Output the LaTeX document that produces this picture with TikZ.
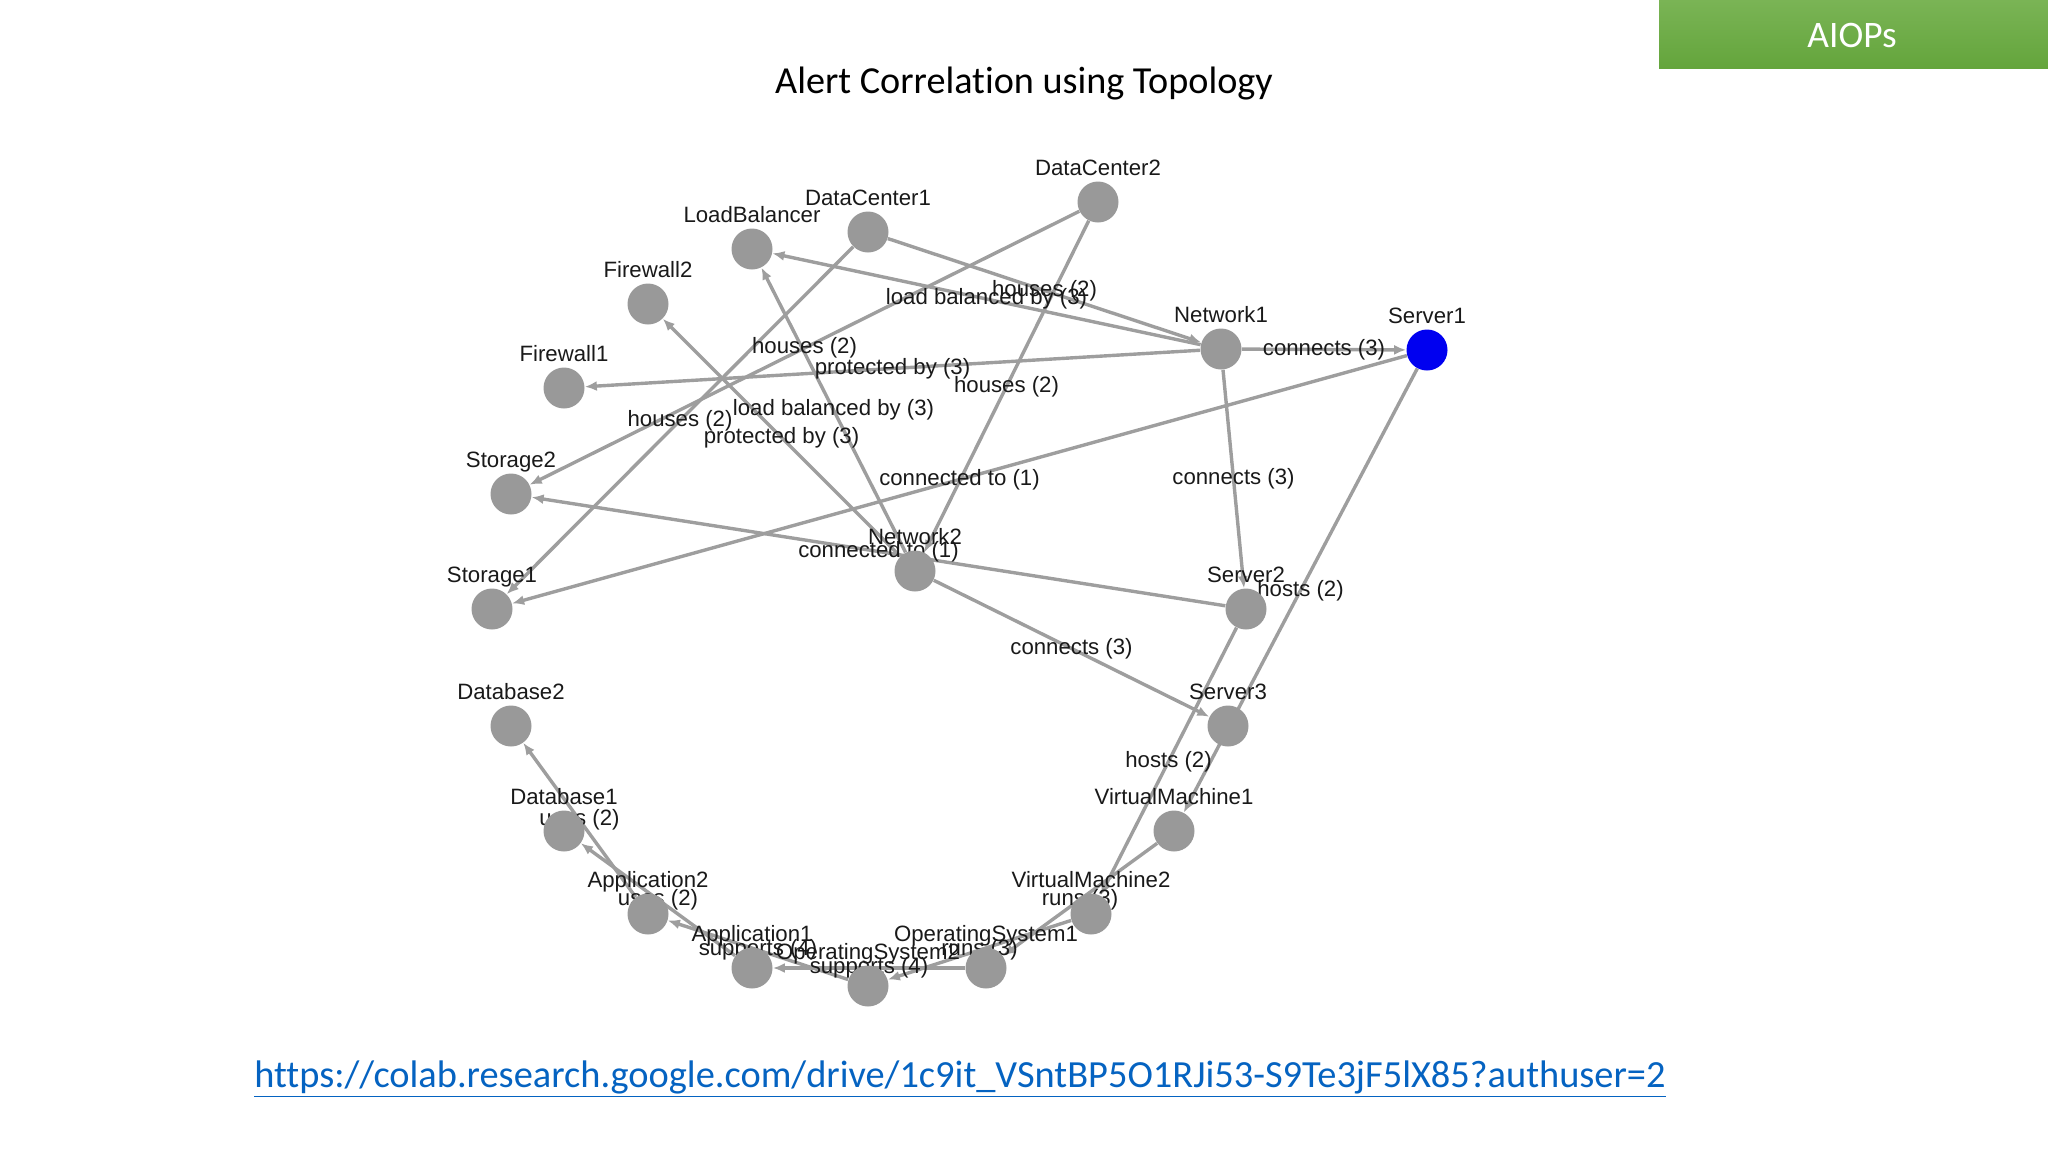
\documentclass[tikz,border=0pt]{standalone}
\usepackage{fontspec}
\setmainfont{Liberation Sans}
\newfontfamily\calibrifont[Ligatures=NoCommon]{Carlito}
\usetikzlibrary{arrows.meta}
\definecolor{nodegray}{RGB}{153,153,153}
\definecolor{edgegray}{RGB}{158,158,158}
\definecolor{srvblue}{RGB}{0,0,240}
\definecolor{txtdark}{RGB}{25,25,25}
\definecolor{linkblue}{RGB}{5,99,193}
\definecolor{greentop}{RGB}{122,180,85}
\definecolor{greenbot}{RGB}{100,165,60}
\pgfdeclarelayer{bg}
\pgfsetlayers{bg,main}
\begin{document}
\begin{tikzpicture}[x=0.5pt,y=-0.5pt,
  namelbl/.style={font=\fontsize{11.1}{13}\selectfont, text=txtdark, anchor=base, inner sep=0pt, label distance=2.75pt},
  vtx/.style={circle, fill=nodegray, minimum size=20.5pt, inner sep=0pt, label distance=2.75pt,
    label={[namelbl]90:#1}},
  lnk/.style={draw=edgegray, line width=1.7pt, -{Latex[length=6pt,width=5pt]}},
  elbl/.style={font=\fontsize{11.1}{13}\selectfont, text=txtdark, inner sep=0pt}]
\useasboundingbox (0,0) rectangle (2048,1152);
% header
\node[font=\calibrifont\fontsize{19.1}{23}\selectfont, text=black] (title) at (1024,84) {Alert Correlation using Topology};
\shade[top color=greentop, bottom color=greenbot] (1659,0) rectangle (2048,68);
\node[font=\calibrifont\fontsize{18.7}{22}\selectfont, text=white] (tag) at (1852,35) {AIOPs};
% nodes
\node[vtx=DataCenter2] (dc2) at (1098,202) {};
\node[vtx=DataCenter1] (dc1) at (868,232) {};
\node[vtx=LoadBalancer] (lb) at (752,249) {};
\node[vtx=Firewall2] (fw2) at (648,304) {};
\node[vtx=Firewall1] (fw1) at (564,388) {};
\node[vtx=Storage2] (st2) at (511,494) {};
\node[vtx=Storage1] (st1) at (492,609) {};
\node[vtx=Network1] (n1) at (1221,349) {};
\node[vtx=Server1, fill=srvblue] (s1) at (1427,350) {};
\node[vtx=Network2] (n2) at (915,571) {};
\node[vtx=Server2] (s2) at (1246,609) {};
\node[vtx=Server3] (s3) at (1228,726) {};
\node[vtx=VirtualMachine1] (vm1) at (1174,831) {};
\node[vtx=VirtualMachine2] (vm2) at (1091,914) {};
\node[vtx=OperatingSystem1] (os1) at (986,968) {};
\node[vtx=OperatingSystem2] (os2) at (868,986) {};
\node[vtx=Application1] (app1) at (752,968) {};
\node[vtx=Application2] (app2) at (648,914) {};
\node[vtx=Database1] (db1) at (564,831) {};
\node[vtx=Database2] (db2) at (511,726) {};
% edges
\begin{pgfonlayer}{bg}
\foreach \a/\b in {n1/s1, n1/lb, dc1/n1, n1/fw1, dc2/st2, dc2/n2, dc1/st1, n2/lb, n2/fw2,
  s1/st1, s2/st2, n1/s2, n2/s3, s1/vm1, s2/vm2, vm1/os1, vm2/os2, os1/app1, os2/app2, app1/db1, app2/db2}
  \draw[lnk] (\a) -- (\b);
\foreach \a/\b/\t in {n1/s1/{connects (3)}, n1/lb/{load balanced by (3)}, dc1/n1/{houses (2)},
  n1/fw1/{protected by (3)}, dc2/st2/{houses (2)}, dc2/n2/{houses (2)}, dc1/st1/{houses (2)},
  n2/lb/{load balanced by (3)}, n2/fw2/{protected by (3)}, s1/st1/{connected to (1)},
  s2/st2/{connected to (1)}, n1/s2/{connects (3)}, n2/s3/{connects (3)}, s1/vm1/{hosts (2)},
  s2/vm2/{hosts (2)}, vm1/os1/{runs (3)}, vm2/os2/{runs (3)}, os1/app1/{supports (4)},
  os2/app2/{supports (4)}, app1/db1/{uses (2)}, app2/db2/{uses (2)}}
  \path (\a) -- (\b) node[elbl, midway] {\t};
\end{pgfonlayer}
% link
\node[font=\calibrifont\fontsize{19.2}{23}\selectfont, text=linkblue] (url) at (960,1079)
  {\underline{https://colab.research.google.com/drive/1c9it\_VSntBP5O1RJi53-S9Te3jF5lX85?authuser=2}};
\end{tikzpicture}
\end{document}
